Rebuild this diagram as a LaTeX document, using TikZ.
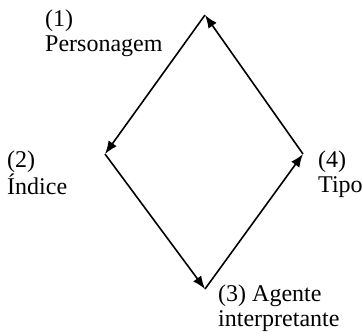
\documentclass[tikz,border=0pt]{standalone}
\usepackage{fontspec}
\setmainfont{Liberation Serif}
\usetikzlibrary{arrows.meta}
\tikzset{
  lbl/.style={anchor=north west, inner sep=0pt, align=left, font=\fontsize{24}{24.5}\selectfont},
  edge/.style={line width=1.6pt, -{Latex[length=13pt,width=10pt]}}
}
\begin{document}
\begin{tikzpicture}[x=1pt,y=-1pt]
\useasboundingbox (0,0) rectangle (363,335);
\coordinate (v1) at (205,15);
\coordinate (v2) at (105,154);
\coordinate (v3) at (205,289);
\coordinate (v4) at (303,154);
\draw[edge] (v1) -- (v2);
\draw[edge] (v2) -- (v3);
\draw[edge] (v3) -- (v4);
\draw[edge] (v4) -- (v1);
\node[lbl] (l1) at (45,10) {(1)\\Personagem};
\node[lbl] (l2) at (7,151) {(2)\\Índice};
\node[lbl] (l4) at (318,151) {(4)\\Tipo};
\node[lbl] (l3) at (218,285) {(3) Agente\\interpretante};
\end{tikzpicture}
\end{document}
